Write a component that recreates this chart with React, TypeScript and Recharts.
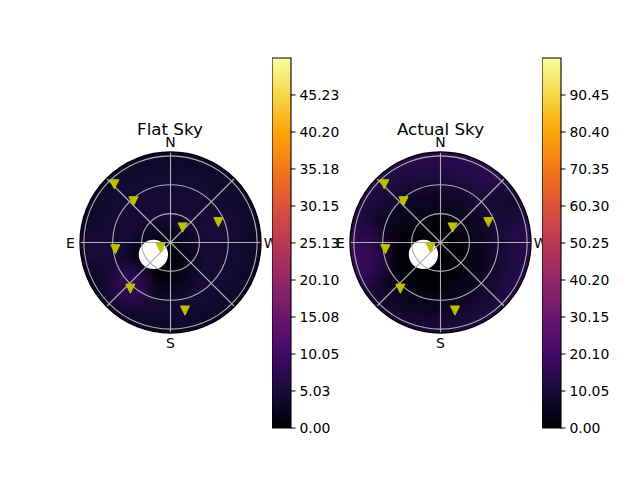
import React from 'react';
import {
  ScatterChart,
  Scatter,
  XAxis,
  YAxis,
  RadarChart,
  Radar,
  PolarGrid,
  PolarAngleAxis,
  PolarRadiusAxis,
  BarChart,
  Bar,
} from 'recharts';

/* ------------------------------------------------------------------ */
/*  Data                                                               */
/* ------------------------------------------------------------------ */

// grid spokes, counter-clockwise from north (east sits on the left)
const SPOKES = ['N', 'NE', 'E', 'SE', 'S', 'SW', 'W', 'NW'];
const RINGS = [30, 60, 90];
const RMAX = 94;

// compass labels: azimuth in degrees, placed just outside the horizon
const COMPASS = ['N', 'E', 'S', 'W'];
const COMPASS_AZ = [0, 90, 180, 270];
const COMPASS_ZEN = 104;

// stars: azimuth / zenith angle in degrees
const STAR_AZ = [44, 42, 321, 293, 97, 117, 139, 192];
const STAR_ZEN = [84, 57.5, 20, 54, 57.7, 11.6, 63.5, 72.3];

// masked sun
const SUN_AZ = 125;
const SUN_ZEN = 21.7;
const SUN_SIZE = 15.2;

// colorbars
const FLAT_MAX = 50.25;
const FLAT_TICKS = [0, 5.03, 10.05, 15.08, 20.1, 25.13, 30.15, 35.18, 40.2, 45.23];
const ACTUAL_MAX = 100.5;
const ACTUAL_TICKS = [0, 10.05, 20.1, 30.15, 40.2, 50.25, 60.3, 70.35, 80.4, 90.45];

// sky brightness: a radial profile plus local spots
const FLAT_PROFILE = [4.7, 4.7, 4.6, 4.4, 3.2];
const FLAT_CENTRE = { az: 0, zen: 0 };
const FLAT_SPOTS = [
  { az: 155, zen: 21, value: 0, spread: 46 },
  { az: 137, zen: 61, value: 7.6, spread: 30 },
  { az: 290, zen: 52, value: 5.5, spread: 22 },
  { az: 95, zen: 75, value: 5.5, spread: 22 },
];
const ACTUAL_PROFILE = [0, 1.2, 5.5, 11.5, 16];
const ACTUAL_CENTRE = { az: 140, zen: 17 };
const ACTUAL_SPOTS = [
  { az: 150, zen: 22, value: 0, spread: 40 },
  { az: 100, zen: 86, value: 17.5, spread: 40 },
  { az: 300, zen: 80, value: 8, spread: 30 },
];

/* ------------------------------------------------------------------ */
/*  Helpers                                                            */
/* ------------------------------------------------------------------ */

const FONT = '"DejaVu Sans", sans-serif';
const SIZE = 241;
const C = SIZE / 2;
const EDGE = 90.5;
const PX = EDGE / RMAX;
const DOMAIN = C / PX; // axis half-range that spans the whole box
const CY = 242;

const INFERNO = [
  '#000004', '#160b39', '#420a68', '#6a176e', '#932667', '#bc3754',
  '#dd513a', '#f37819', '#fca50a', '#f6d746', '#fcffa4',
];

function hex(c: string) {
  return [1, 3, 5].map((i) => parseInt(c.slice(i, i + 2), 16));
}

function inferno(t: number) {
  const v = Math.max(0, Math.min(1, t)) * (INFERNO.length - 1);
  const i = Math.min(Math.floor(v), INFERNO.length - 2);
  const f = v - i;
  const a = hex(INFERNO[i]);
  const b = hex(INFERNO[i + 1]);
  const m = a.map((x, k) => Math.round(x + (b[k] - x) * f));
  return `rgb(${m[0]},${m[1]},${m[2]})`;
}

function toXY(az: number, zen: number) {
  const a = (az * Math.PI) / 180;
  return { x: -zen * Math.sin(a), y: zen * Math.cos(a) };
}

const stars = STAR_AZ.map((az, i) => toXY(az, STAR_ZEN[i]));
const sun = [toXY(SUN_AZ, SUN_ZEN)];
const origin = [{ x: 0, y: 0 }];
const compass = COMPASS.map((label, i) => ({ ...toXY(COMPASS_AZ[i], COMPASS_ZEN), label }));

/* ------------------------------------------------------------------ */
/*  Sky panel                                                          */
/* ------------------------------------------------------------------ */

interface Spot {
  az: number;
  zen: number;
  value: number;
  spread: number;
}

interface PanelProps {
  id: string;
  title: string;
  centreX: number;
  vmax: number;
  profile: number[];
  centre: { az: number; zen: number };
  spots: Spot[];
}

const NO_MARGIN = { top: 0, right: 0, bottom: 0, left: 0 };

function SkyPanel({ id, title, centreX, vmax, profile, centre, spots }: PanelProps) {
  const box: React.CSSProperties = {
    position: 'absolute',
    left: centreX - C,
    top: CY - C,
    width: SIZE,
    height: SIZE,
  };
  const spotData = spots.map((s, k) => ({ ...toXY(s.az, s.zen), ...s, k }));

  const baseShape = (p: any) => {
    const d = Math.hypot(p.cx - C, p.cy - C);
    return (
      <g>
        <defs>
          <clipPath id={`${id}-clip`}>
            <circle cx={C} cy={C} r={EDGE} />
          </clipPath>
          <radialGradient
            id={`${id}-base`}
            gradientUnits="userSpaceOnUse"
            cx={p.cx}
            cy={p.cy}
            r={EDGE + d}
          >
            {profile.map((v, i) => (
              <stop
                key={i}
                offset={`${(i / (profile.length - 1)) * 100}%`}
                stopColor={inferno(v / vmax)}
              />
            ))}
          </radialGradient>
        </defs>
        <circle cx={C} cy={C} r={EDGE} fill={`url(#${id}-base)`} />
      </g>
    );
  };

  const spotShape = (p: any) => {
    const s = p.payload;
    const gid = `${id}-spot-${s.k}`;
    const col = inferno(s.value / vmax);
    return (
      <g clipPath={`url(#${id}-clip)`}>
        <defs>
          <radialGradient id={gid} gradientUnits="userSpaceOnUse" cx={p.cx} cy={p.cy} r={s.spread * PX}>
            <stop offset="0%" stopColor={col} stopOpacity={1} />
            <stop offset="40%" stopColor={col} stopOpacity={0.8} />
            <stop offset="100%" stopColor={col} stopOpacity={0} />
          </radialGradient>
        </defs>
        <circle cx={p.cx} cy={p.cy} r={s.spread * PX} fill={`url(#${gid})`} />
      </g>
    );
  };

  const sunShape = (p: any) => <circle cx={p.cx} cy={p.cy} r={SUN_SIZE * PX} fill="#ffffff" />;

  const starShape = (p: any) => {
    const h = 4.6;
    return (
      <path
        d={`M${p.cx - h},${p.cy - h}L${p.cx + h},${p.cy - h}L${p.cx},${p.cy + h}Z`}
        fill="#bfbf00"
        stroke="#bfbf00"
        strokeWidth={1}
      />
    );
  };

  const spineShape = (p: any) => (
    <circle cx={p.cx} cy={p.cy} r={EDGE} fill="none" stroke="#000" strokeWidth={1.3} />
  );

  const compassShape = (p: any) => (
    <text
      x={p.cx}
      y={p.cy}
      textAnchor="middle"
      dominantBaseline="central"
      fontSize={13.9}
      fontFamily={FONT}
      fill="#000"
    >
      {p.payload.label}
    </text>
  );

  const axes = [
    <XAxis key="x" type="number" dataKey="x" domain={[-DOMAIN, DOMAIN]} hide />,
    <YAxis key="y" type="number" dataKey="y" domain={[-DOMAIN, DOMAIN]} hide />,
  ];

  return (
    <>
      <div style={box}>
        <ScatterChart width={SIZE} height={SIZE} margin={NO_MARGIN}>
          {axes}
          <Scatter data={[toXY(centre.az, centre.zen)]} shape={baseShape} isAnimationActive={false} />
          <Scatter data={spotData} shape={spotShape} isAnimationActive={false} />
          <Scatter data={sun} shape={sunShape} isAnimationActive={false} />
        </ScatterChart>
      </div>
      <div style={box}>
        <RadarChart
          width={SIZE}
          height={SIZE}
          data={SPOKES.map((dir) => ({ dir, v: 0 }))}
          outerRadius={EDGE}
          startAngle={90}
          endAngle={450}
          margin={NO_MARGIN}
        >
          <PolarGrid
            gridType="circle"
            polarRadius={RINGS.map((r) => r * PX)}
            stroke="#b0b0b0"
            strokeWidth={1.1}
          />
          <PolarAngleAxis dataKey="dir" tick={false} tickLine={false} axisLine={false} />
          <PolarRadiusAxis domain={[0, RMAX]} tick={false} axisLine={false} />
          <Radar dataKey="v" stroke="none" fill="none" dot={false} isAnimationActive={false} />
        </RadarChart>
      </div>
      <div style={box}>
        <ScatterChart width={SIZE} height={SIZE} margin={NO_MARGIN}>
          {axes}
          <Scatter data={origin} shape={spineShape} isAnimationActive={false} />
          <Scatter data={stars} shape={starShape} isAnimationActive={false} />
          <Scatter data={compass} shape={compassShape} isAnimationActive={false} />
        </ScatterChart>
      </div>
      <div
        style={{
          position: 'absolute',
          left: centreX - 100,
          width: 200,
          top: 119,
          textAlign: 'center',
          fontFamily: FONT,
          fontSize: 16.7,
          lineHeight: '20px',
          color: '#000',
        }}
      >
        {title}
      </div>
    </>
  );
}

/* ------------------------------------------------------------------ */
/*  Colorbar                                                           */
/* ------------------------------------------------------------------ */

function Colorbar({ id, left, vmax, ticks }: { id: string; left: number; vmax: number; ticks: number[] }) {
  const barW = 18.5;
  const axisW = 60;
  return (
    <div style={{ position: 'absolute', left, top: 48 }}>
      <BarChart
        width={barW + axisW}
        height={390}
        data={[{ name: 'cb', v: vmax }]}
        margin={{ top: 10, right: 0, bottom: 10, left: 0 }}
        barCategoryGap={0}
      >
        <defs>
          <linearGradient id={`${id}-cmap`} x1="0" y1="1" x2="0" y2="0">
            {INFERNO.map((c, i) => (
              <stop key={i} offset={`${i * 10}%`} stopColor={c} />
            ))}
          </linearGradient>
        </defs>
        <XAxis dataKey="name" hide />
        <YAxis
          orientation="right"
          type="number"
          domain={[0, vmax]}
          ticks={ticks}
          tickFormatter={(v: number) => v.toFixed(2)}
          width={axisW}
          axisLine={false}
          tickSize={5}
          tickMargin={4}
          tickLine={{ stroke: '#000' }}
          tick={{ fontSize: 13.9, fill: '#000', fontFamily: FONT }}
          interval={0}
        />
        <Bar
          dataKey="v"
          fill={`url(#${id}-cmap)`}
          stroke="#000"
          strokeWidth={1.1}
          isAnimationActive={false}
        />
      </BarChart>
    </div>
  );
}

export default function App() {
  return (
    <div
      style={{
        position: 'absolute',
        left: 0,
        top: 0,
        width: 640,
        height: 480,
        background: '#fff',
        overflow: 'hidden',
      }}
    >
      <SkyPanel
        id="flat"
        title="Flat Sky"
        centreX={170}
        vmax={FLAT_MAX}
        profile={FLAT_PROFILE}
        centre={FLAT_CENTRE}
        spots={FLAT_SPOTS}
      />
      <Colorbar id="flat" left={272} vmax={FLAT_MAX} ticks={FLAT_TICKS} />
      <SkyPanel
        id="actual"
        title="Actual Sky"
        centreX={440.5}
        vmax={ACTUAL_MAX}
        profile={ACTUAL_PROFILE}
        centre={ACTUAL_CENTRE}
        spots={ACTUAL_SPOTS}
      />
      <Colorbar id="actual" left={542} vmax={ACTUAL_MAX} ticks={ACTUAL_TICKS} />
    </div>
  );
}
